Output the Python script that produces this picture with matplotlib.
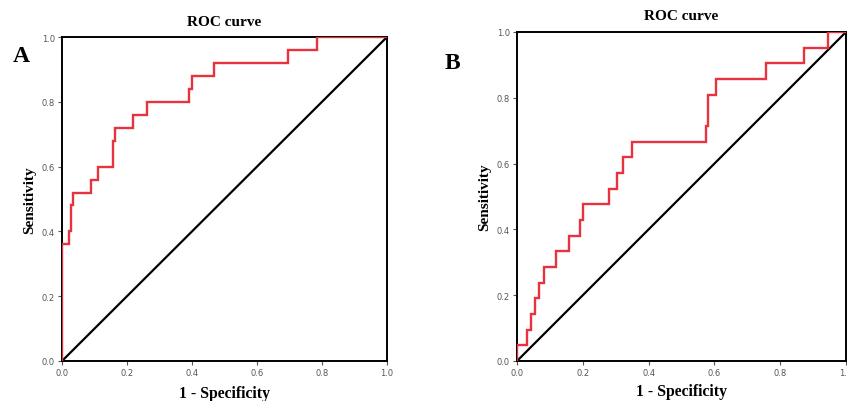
import matplotlib
matplotlib.use("Agg")
import matplotlib.pyplot as plt

# Panel A ROC steps (1 - specificity, sensitivity)
fpr_a = [0.0, 0.0, 0.021, 0.021, 0.028, 0.028, 0.034, 0.034, 0.090, 0.090, 0.111, 0.111,
         0.156, 0.156, 0.162, 0.162, 0.218, 0.218, 0.263, 0.263, 0.391, 0.391, 0.401, 0.401,
         0.467, 0.467, 0.694, 0.694, 0.785, 0.785, 1.0]
tpr_a = [0.0, 0.36, 0.36, 0.40, 0.40, 0.48, 0.48, 0.52, 0.52, 0.56, 0.56, 0.60,
         0.60, 0.68, 0.68, 0.72, 0.72, 0.76, 0.76, 0.80, 0.80, 0.84, 0.84, 0.88,
         0.88, 0.92, 0.92, 0.96, 0.96, 1.0, 1.0]

# Panel B ROC steps
fpr_b = [0.0, 0.0, 0.031, 0.031, 0.044, 0.044, 0.055, 0.055, 0.066, 0.066, 0.083, 0.083,
         0.120, 0.120, 0.159, 0.159, 0.190, 0.190, 0.200, 0.200, 0.280, 0.280, 0.303, 0.303,
         0.323, 0.323, 0.350, 0.350, 0.574, 0.574, 0.581, 0.581, 0.604, 0.604, 0.757, 0.757,
         0.872, 0.872, 0.946, 0.946, 1.0]
tpr_b = [0.0, 0.048, 0.048, 0.095, 0.095, 0.143, 0.143, 0.190, 0.190, 0.238, 0.238, 0.286,
         0.286, 0.333, 0.333, 0.381, 0.381, 0.429, 0.429, 0.476, 0.476, 0.524, 0.524, 0.571,
         0.571, 0.619, 0.619, 0.667, 0.667, 0.714, 0.714, 0.810, 0.810, 0.857, 0.857, 0.905,
         0.905, 0.952, 0.952, 1.0, 1.0]

ticks = [0.0, 0.2, 0.4, 0.6, 0.8, 1.0]
tick_labels = ["0.0", "0.2", "0.4", "0.6", "0.8", "1.0"]

W, H = 847, 402
fig = plt.figure(figsize=(W / 100, H / 100), dpi=100)

serif = ["Liberation Serif", "DejaVu Serif"]
red = "#e8323e"


def make_axes(box, fpr, tpr, letter, letter_pos, title_y, xlabel_y, ylabel_x):
    l, t, r, b = box
    ax = fig.add_axes([l / W, 1 - b / H, (r - l) / W, (b - t) / H])
    ax.plot(fpr, tpr, color=red, lw=1.7, solid_joinstyle="miter", zorder=3)
    ax.plot([0, 1], [0, 1], color="black", lw=1.6, zorder=2)
    ax.set_xlim(0, 1)
    ax.set_ylim(0, 1)
    ax.set_xticks(ticks)
    ax.set_yticks(ticks)
    ax.set_xticklabels(tick_labels)
    ax.set_yticklabels(tick_labels)
    ax.tick_params(direction="out", length=3, width=0.8, labelsize=6, colors="#555555",
                   pad=2)
    for s in ax.spines.values():
        s.set_linewidth(1.4)
        s.set_color("black")
    cx = (l + r) / 2 / W
    fig.text(cx, 1 - title_y / H, "ROC curve", ha="center", va="center",
             family=serif, fontweight="bold", fontsize=11)
    fig.text(cx, 1 - xlabel_y / H, "1 - Specificity", ha="center", va="center",
             family=serif, fontweight="bold", fontsize=11.3)
    fig.text(ylabel_x / W, 1 - (t + b) / 2 / H, "Sensitivity", ha="center", va="center",
             rotation=90, family=serif, fontweight="bold", fontsize=11)
    fig.text(letter_pos[0] / W, 1 - letter_pos[1] / H, letter, ha="center", va="center",
             family=serif, fontweight="bold", fontsize=17)
    return ax


make_axes((62, 38, 387, 362), fpr_a, tpr_a, "A", (21, 57), 23, 394, 30)
make_axes((517, 33, 846, 362), fpr_b, tpr_b, "B", (452, 64), 16, 392, 485)

fig.savefig("out.png", dpi=100)
